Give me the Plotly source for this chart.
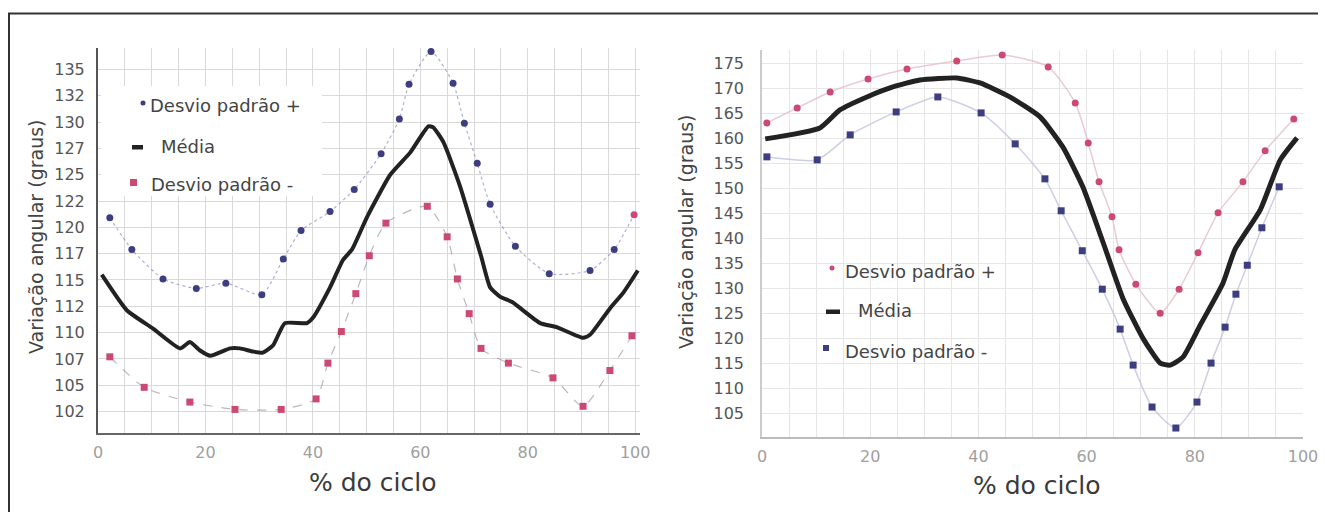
import plotly.graph_objects as go

# The page body adds an 8px margin, so the figure is 8px smaller than the window
OFF = 8
W, H = 1326 - OFF, 512 - OFF

# ---------------- data: left chart ----------------
left_up_x = [2.2, 6.3, 12.1, 18.3, 23.8, 30.5, 34.5, 37.8, 43.2, 47.7, 52.7, 56.1, 57.9, 62.0,
             66.1, 68.2, 70.6, 73.0, 77.7, 84.0, 91.6, 96.1, 99.8]
left_up_y = [120.9, 117.9, 115.1, 114.2, 114.7, 113.6, 117.0, 119.7, 121.5, 123.6, 127.0, 130.3, 133.6, 136.7,
             133.7, 129.9, 126.1, 122.2, 118.2, 115.6, 115.9, 117.9, 121.2]
left_low_x = [2.2, 8.6, 17.1, 25.5, 34.1, 40.6, 42.8, 45.3, 48.0, 50.5, 53.6, 61.3, 65.0, 66.9,
              69.1, 71.3, 76.4, 84.7, 90.3, 95.3, 99.4]
left_low_y = [107.7, 104.8, 103.4, 102.7, 102.7, 103.7, 107.1, 110.1, 113.7, 117.3, 120.4, 122.0, 119.1, 115.1,
              111.8, 108.5, 107.1, 105.7, 103.0, 106.4, 109.7]
left_mean_x = [0.7, 5.4, 10.2, 15.3, 17.1, 19.0, 20.9, 24.6, 26.4, 28.9, 30.7, 32.6, 34.8, 38.9, 40.0,
               43.2, 45.6, 47.3, 50.1, 54.4, 58.1, 61.5, 62.4, 64.3, 67.4, 71.3, 73.0, 74.9, 77.1,
               82.3, 85.5, 90.3, 91.6, 95.3, 97.8, 100.5]
left_mean_y = [115.5, 112.1, 110.4, 108.5, 109.1, 108.3, 107.8, 108.5, 108.5, 108.2, 108.1, 108.8, 110.9, 110.9, 111.4,
               114.3, 116.9, 117.9, 121.0, 125.0, 127.1, 129.6, 129.5, 128.1, 123.9, 117.3, 114.3, 113.4, 112.9,
               110.9, 110.5, 109.5, 109.8, 112.3, 113.8, 115.9]
left_ytick_vals = [102.5, 105, 107.5, 110, 112.5, 115, 117.5, 120, 122.5, 125, 127.5, 130, 132.5, 135]
left_ytick_text = ["102", "105", "107", "110", "112", "115", "117", "120", "122", "125", "127", "130", "132", "135"]

# ---------------- data: right chart ----------------
right_up_x = [0.9, 6.5, 12.6, 19.6, 26.8, 36.0, 44.4, 52.9, 57.9, 60.3, 62.3, 64.7, 66.0, 69.1,
              73.6, 77.1, 80.6, 84.3, 88.9, 93.0, 98.3]
right_up_y = [163.1, 166.1, 169.3, 171.9, 173.9, 175.5, 176.7, 174.3, 167.1, 159.1, 151.3, 144.3, 137.7, 130.8,
              125.0, 129.8, 137.1, 145.1, 151.3, 157.5, 163.9]
right_low_x = [0.9, 10.2, 16.3, 24.8, 32.5, 40.5, 46.8, 52.3, 55.3, 59.2, 62.9, 66.2, 68.6, 72.1,
               76.5, 80.4, 83.0, 85.6, 87.6, 89.7, 92.4, 95.6]
right_low_y = [156.3, 155.7, 160.7, 165.3, 168.3, 165.1, 158.9, 151.9, 145.5, 137.5, 129.8, 121.8, 114.6, 106.2,
               102.0, 107.2, 115.0, 122.2, 128.8, 134.6, 142.1, 150.3]
right_mean_x = [0.6, 10.7, 14.4, 19.4, 24.2, 29.2, 36.0, 40.3, 45.8, 51.4, 55.6, 59.3, 63.2, 66.7,
                70.4, 73.6, 75.4, 77.8, 81.0, 85.2, 87.4, 92.1, 95.8, 98.9]
right_mean_y = [159.9, 162.1, 165.7, 168.3, 170.3, 171.7, 172.1, 171.1, 168.3, 164.3, 158.3, 150.3, 138.7, 128.0,
                120.0, 115.0, 114.6, 116.2, 122.6, 131.0, 137.7, 145.7, 155.7, 160.1]
right_ytick_vals = [105, 110, 115, 120, 125, 130, 135, 140, 145, 150, 155, 160, 165, 170, 175]

xtick_vals = [0, 20, 40, 60, 80, 100]
xtick_text = ["0", "20", "40", "60", "80", "100"]

legend_labels = ["Desvio padrão +", "Média", "Desvio padrão -"]
x_title = "% do ciclo"
y_title = "Variação angular (graus)"

# ---------------- styling ----------------
NAVY = "#3d3d82"
PINK = "#cc4a72"
MEAN = "#222222"
FONT = "DejaVu Sans"


def fx(p):
    # window pixel -> paper x
    return (p - OFF) / W


def fy(p):
    # window pixel -> paper y
    return 1 - (p - OFF) / H


fig = go.Figure()

# left chart traces
fig.add_trace(go.Scatter(x=left_up_x, y=left_up_y, mode="lines+markers", xaxis="x", yaxis="y",
                         line=dict(color="rgba(120,120,190,0.6)", width=1.2, dash="dot", shape="spline", smoothing=0.6),
                         marker=dict(symbol="circle", size=7,
                                     color=[NAVY] * (len(left_up_x) - 1) + [PINK]),
                         name=legend_labels[0], showlegend=False))
fig.add_trace(go.Scatter(x=left_mean_x, y=left_mean_y, mode="lines", xaxis="x", yaxis="y",
                         line=dict(color=MEAN, width=4, shape="spline", smoothing=0.5),
                         name=legend_labels[1], showlegend=False))
fig.add_trace(go.Scatter(x=left_low_x, y=left_low_y, mode="lines+markers", xaxis="x", yaxis="y",
                         line=dict(color="rgba(150,130,145,0.6)", width=1.2, dash="dash", shape="spline", smoothing=0.6),
                         marker=dict(symbol="square", size=7, color=PINK),
                         name=legend_labels[2], showlegend=False))

# right chart traces
fig.add_trace(go.Scatter(x=right_up_x, y=right_up_y, mode="lines+markers", xaxis="x2", yaxis="y2",
                         line=dict(color="rgba(225,185,195,0.75)", width=1.5, shape="spline", smoothing=0.6),
                         marker=dict(symbol="circle", size=7, color=PINK),
                         name=legend_labels[0], showlegend=False))
fig.add_trace(go.Scatter(x=right_mean_x, y=right_mean_y, mode="lines", xaxis="x2", yaxis="y2",
                         line=dict(color=MEAN, width=5, shape="spline", smoothing=0.5),
                         name=legend_labels[1], showlegend=False))
fig.add_trace(go.Scatter(x=right_low_x, y=right_low_y, mode="lines+markers", xaxis="x2", yaxis="y2",
                         line=dict(color="rgba(190,190,220,0.75)", width=1.5, shape="spline", smoothing=0.6),
                         marker=dict(symbol="square", size=7, color=NAVY),
                         name=legend_labels[2], showlegend=False))

xt_font = dict(family=FONT, size=16, color="#a0a0a0")
yt_font = dict(family=FONT, size=16, color="#555555")

fig.update_layout(
    width=W, height=H,
    margin=dict(l=0, r=0, t=0, b=0, autoexpand=False),
    paper_bgcolor="white", plot_bgcolor="white",
    showlegend=False,
    xaxis=dict(domain=[fx(98), fx(640)], range=[0, 100.9], tickvals=xtick_vals, ticktext=xtick_text,
               tickfont=xt_font, ticks="", ticklabelstandoff=4,
               showgrid=True, gridcolor="#d9d9d9", gridwidth=1,
               minor=dict(dtick=5, showgrid=True, gridcolor="#d9d9d9", ticks=""),
               showline=True, linecolor="#666666", linewidth=2, zeroline=False, anchor="y"),
    yaxis=dict(domain=[fy(433), fy(48)], range=[100.46, 137.04], tickvals=left_ytick_vals,
               ticktext=left_ytick_text, tickfont=yt_font, ticks="", ticklabelstandoff=8,
               showgrid=True, gridcolor="#d9d9d9", gridwidth=1,
               showline=True, linecolor="#555555", linewidth=2, zeroline=False, anchor="x"),
    xaxis2=dict(domain=[fx(762), fx(1303)], range=[0, 100], tickvals=xtick_vals, ticktext=xtick_text,
                tickfont=xt_font, ticks="", ticklabelstandoff=4,
                showgrid=True, gridcolor="#e6e6e6", gridwidth=1,
                minor=dict(dtick=5, showgrid=True, gridcolor="#e6e6e6", ticks=""),
                showline=True, linecolor="#bbbbbb", linewidth=1.5, zeroline=False, anchor="y2"),
    yaxis2=dict(domain=[fy(437), fy(50)], range=[100.2, 177.7], tickvals=right_ytick_vals,
                tickfont=yt_font, ticks="", ticklabelstandoff=13,
                showgrid=True, gridcolor="#e6e6e6", gridwidth=1,
                showline=True, linecolor="#cccccc", linewidth=1.5, zeroline=False, anchor="x2"),
)

shapes = []
# outer frame (top and left edges)
shapes.append(dict(type="line", xref="paper", yref="paper", x0=fx(8), x1=1, y0=fy(13.5), y1=fy(13.5),
                   line=dict(color="#333333", width=2)))
shapes.append(dict(type="line", xref="paper", yref="paper", x0=fx(9), x1=fx(9), y0=fy(13.5), y1=0,
                   line=dict(color="#333333", width=2)))
# white box behind left legend
shapes.append(dict(type="rect", xref="paper", yref="paper", x0=fx(101), x1=fx(322), y0=fy(196), y1=fy(86),
                   fillcolor="white", line=dict(width=0), layer="above"))
# legend symbols - left
shapes.append(dict(type="circle", xref="paper", yref="paper", x0=fx(140.5), x1=fx(145.5), y0=fy(105.5), y1=fy(100.5),
                   fillcolor=NAVY, line=dict(width=0), layer="above"))
shapes.append(dict(type="rect", xref="paper", yref="paper", x0=fx(132), x1=fx(143), y0=fy(149.5), y1=fy(145),
                   fillcolor=MEAN, line=dict(width=0), layer="above"))
shapes.append(dict(type="rect", xref="paper", yref="paper", x0=fx(130), x1=fx(137), y0=fy(186), y1=fy(179),
                   fillcolor=PINK, line=dict(width=0), layer="above"))
# legend symbols - right
shapes.append(dict(type="circle", xref="paper", yref="paper", x0=fx(829.5), x1=fx(834.5), y0=fy(270.5), y1=fy(265.5),
                   fillcolor=PINK, line=dict(width=0), layer="above"))
shapes.append(dict(type="rect", xref="paper", yref="paper", x0=fx(826), x1=fx(840), y0=fy(314), y1=fy(309.5),
                   fillcolor=MEAN, line=dict(width=0), layer="above"))
shapes.append(dict(type="rect", xref="paper", yref="paper", x0=fx(823), x1=fx(829), y0=fy(351), y1=fy(345),
                   fillcolor=NAVY, line=dict(width=0), layer="above"))
fig.update_layout(shapes=shapes)

ann = []
leg_font = dict(family=FONT, size=18, color="#444444")
# left legend text
ann.append(dict(x=fx(148), y=fy(106), text=legend_labels[0], xanchor="left", yanchor="middle", font=leg_font))
ann.append(dict(x=fx(159), y=fy(146), text=legend_labels[1], xanchor="left", yanchor="middle", font=leg_font))
ann.append(dict(x=fx(149), y=fy(184), text=legend_labels[2], xanchor="left", yanchor="middle", font=leg_font))
# right legend text
ann.append(dict(x=fx(843), y=fy(271), text=legend_labels[0], xanchor="left", yanchor="middle", font=leg_font))
ann.append(dict(x=fx(856), y=fy(310), text=legend_labels[1], xanchor="left", yanchor="middle", font=leg_font))
ann.append(dict(x=fx(843), y=fy(351), text=legend_labels[2], xanchor="left", yanchor="middle", font=leg_font))
# axis titles
xt = dict(family=FONT, size=25, color="#3a3a3a")
yt = dict(family=FONT, size=19, color="#444444")
ann.append(dict(x=fx(373), y=fy(482), text=x_title, xanchor="center", yanchor="middle", font=xt))
ann.append(dict(x=fx(1037), y=fy(485), text=x_title, xanchor="center", yanchor="middle", font=xt))
ann.append(dict(x=fx(36), y=fy(237), text=y_title, textangle=-90, xanchor="center", yanchor="middle", font=yt))
ann.append(dict(x=fx(686), y=fy(232), text=y_title, textangle=-90, xanchor="center", yanchor="middle", font=yt))
for a in ann:
    a.update(xref="paper", yref="paper", showarrow=False)
fig.update_layout(annotations=ann)

fig.write_html("out.html")
